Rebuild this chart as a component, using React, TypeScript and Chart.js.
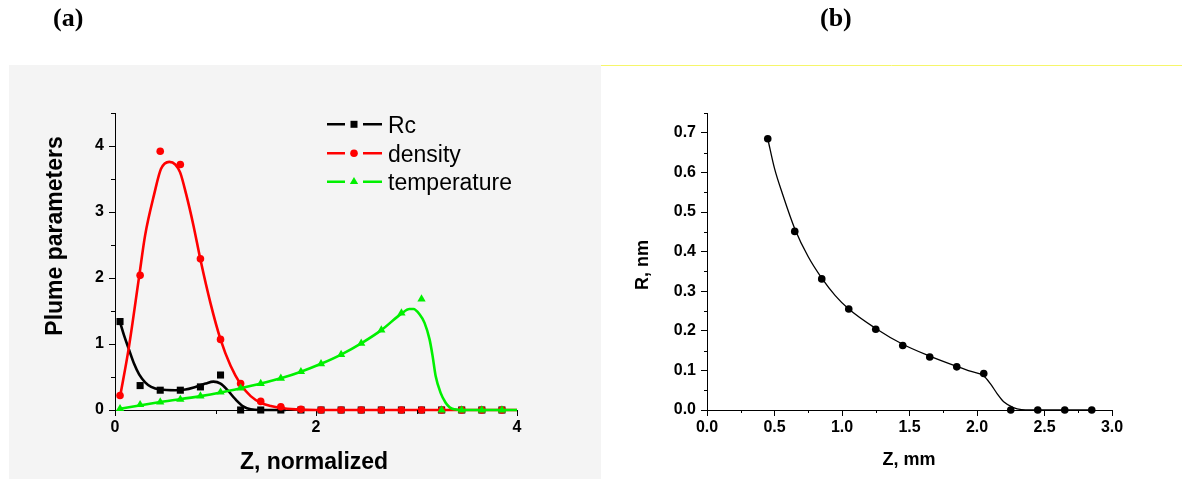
import React, { useEffect, useRef } from 'react';
import { Chart, registerables } from 'chart.js';

Chart.register(...registerables);

// ---------------- Panel (a): plume parameters vs normalized Z ----------------
const zMeasured = [0.05, 0.25, 0.45, 0.65, 0.85, 1.05, 1.25, 1.45, 1.65, 1.85, 2.05, 2.25, 2.45, 2.65, 2.85, 3.05, 3.25, 3.45, 3.65, 3.85];
const rcMeasured = [1.34, 0.37, 0.30, 0.30, 0.35, 0.53, 0, 0, 0, 0, 0, 0, 0, 0, 0, 0, 0, 0, 0, 0];
const densityMeasured = [0.22, 2.04, 3.92, 3.72, 2.29, 1.07, 0.40, 0.13, 0.05, 0.01, 0, 0, 0, 0, 0, 0, 0, 0, 0, 0];
const temperatureMeasured = [0.02, 0.08, 0.12, 0.16, 0.21, 0.27, 0.33, 0.40, 0.48, 0.58, 0.70, 0.84, 1.01, 1.21, 1.47, 1.68, 0, 0, 0, 0];

// fitted curves
const rcFitZ = [0.05, 0.09, 0.136, 0.19, 0.24, 0.3, 0.36, 0.45, 0.6, 0.7, 0.8, 0.9, 0.98, 1.05, 1.12, 1.2, 1.28, 1.35, 1.45, 1.7];
const rcFitY = [1.33, 1.13, 0.93, 0.70, 0.54, 0.42, 0.35, 0.31, 0.30, 0.31, 0.35, 0.40, 0.43, 0.40, 0.30, 0.16, 0.05, 0.01, 0, 0];
const densityFitZ = [0.05, 0.136, 0.24, 0.3, 0.39, 0.457, 0.54, 0.6, 0.648, 0.708, 0.78, 0.85, 0.95, 1.05, 1.15, 1.25, 1.35, 1.45, 1.55, 1.65, 1.8, 2.0, 4.0];
const densityFitY = [0.20, 0.93, 2.02, 2.65, 3.27, 3.65, 3.76, 3.72, 3.60, 3.27, 2.80, 2.28, 1.62, 1.07, 0.67, 0.39, 0.21, 0.11, 0.06, 0.03, 0.01, 0, 0];
const temperatureFitZ = [0.05, 0.45, 0.85, 1.05, 1.25, 1.45, 1.65, 1.85, 2.05, 2.25, 2.45, 2.65, 2.85, 2.93, 2.97, 3.03, 3.08, 3.13, 3.16, 3.19, 3.24, 3.29, 3.33, 3.38, 3.45, 4.0];
const temperatureFitY = [0.02, 0.12, 0.21, 0.265, 0.33, 0.40, 0.48, 0.58, 0.70, 0.84, 1.01, 1.21, 1.46, 1.53, 1.53, 1.45, 1.32, 1.07, 0.82, 0.52, 0.26, 0.11, 0.04, 0.01, 0, 0];

const xTicksA = [0, 2, 4];
const xMinorA = [1, 3];
const yTicksA = [0, 1, 2, 3, 4];
const yMinorA = [0.5, 1.5, 2.5, 3.5, 4.5];
const legendLabelsA = ['Rc', 'density', 'temperature'];

// ---------------- Panel (b): R vs Z ----------------
const zB = [0.45, 0.65, 0.85, 1.05, 1.25, 1.45, 1.65, 1.85, 2.05, 2.25, 2.45, 2.65, 2.85];
const rB = [0.685, 0.451, 0.331, 0.255, 0.204, 0.163, 0.134, 0.109, 0.092, 0, 0, 0, 0];
const rFitZ = [0.45, 0.5, 0.56, 0.65, 0.75, 0.85, 0.95, 1.05, 1.25, 1.45, 1.65, 1.85, 1.95, 2.05, 2.1, 2.15, 2.2, 2.27, 2.33, 2.4, 2.85];
const rFitY = [0.685, 0.61, 0.545, 0.458, 0.387, 0.333, 0.289, 0.255, 0.206, 0.166, 0.136, 0.110, 0.098, 0.086, 0.066, 0.041, 0.020, 0.006, 0.001, 0, 0];

const xTicksB = [0, 0.5, 1.0, 1.5, 2.0, 2.5, 3.0];
const xMinorB = [0.25, 0.75, 1.25, 1.75, 2.25, 2.75];
const yTicksB = [0, 0.1, 0.2, 0.3, 0.4, 0.5, 0.6, 0.7];
const yMinorB = [0.05, 0.15, 0.25, 0.35, 0.45, 0.55, 0.65, 0.75];

const BLACK = '#000000';
const RED = '#ff0000';
const GREEN = '#00f000';
const SANS = '"Liberation Sans", Arial, Helvetica, sans-serif';
const SERIF = '"Liberation Serif", "Times New Roman", serif';

const pts = (xs: number[], ys: number[]) => xs.map((x, i) => ({ x, y: ys[i] }));

function drawMinorTicks(chart: any, xMinor: number[], yMinor: number[], len: number) {
  const ctx = chart.ctx;
  const area = chart.chartArea;
  const xs = chart.scales.x;
  const ys = chart.scales.y;
  ctx.save();
  ctx.strokeStyle = '#000';
  ctx.lineWidth = 1;
  xMinor.forEach((v) => {
    const px = Math.round(xs.getPixelForValue(v)) + 0.5;
    ctx.beginPath();
    ctx.moveTo(px, area.bottom);
    ctx.lineTo(px, area.bottom + len);
    ctx.stroke();
  });
  yMinor.forEach((v) => {
    const py = Math.round(ys.getPixelForValue(v)) + 0.5;
    ctx.beginPath();
    ctx.moveTo(area.left, py);
    ctx.lineTo(area.left - len, py);
    ctx.stroke();
  });
  ctx.restore();
}

function drawText(ctx: CanvasRenderingContext2D, text: string, x: number, y: number, font: string, align: CanvasTextAlign, rotate = false) {
  ctx.save();
  ctx.fillStyle = '#000';
  ctx.font = font;
  ctx.textAlign = align;
  ctx.textBaseline = 'alphabetic';
  ctx.translate(x, y);
  if (rotate) ctx.rotate(-Math.PI / 2);
  ctx.fillText(text, 0, 0);
  ctx.restore();
}

function drawMarker(ctx: CanvasRenderingContext2D, style: string, x: number, y: number, color: string) {
  ctx.save();
  ctx.fillStyle = color;
  ctx.beginPath();
  if (style === 'rect') {
    ctx.rect(x - 3.5, y - 3.5, 7, 7);
  } else if (style === 'circle') {
    ctx.arc(x, y, 3.8, 0, Math.PI * 2);
  } else {
    const r = 4.8;
    ctx.moveTo(x, y - r);
    ctx.lineTo(x + r * Math.sin(Math.PI * 2 / 3), y + r * 0.5);
    ctx.lineTo(x - r * Math.sin(Math.PI * 2 / 3), y + r * 0.5);
    ctx.closePath();
  }
  ctx.fill();
  ctx.restore();
}

function axisScale(min: number, max: number, ticks: number[], fmt: (v: number) => string, fitSize: number, horizontal: boolean) {
  return {
    type: 'linear' as const,
    min,
    max,
    afterBuildTicks: (s: any) => {
      s.ticks = ticks.map((value) => ({ value }));
    },
    afterFit: (s: any) => {
      if (horizontal) s.height = fitSize;
      else s.width = fitSize;
    },
    grid: { display: true, drawOnChartArea: false, drawTicks: true, tickLength: 6, tickColor: '#000', tickWidth: 1 },
    border: { display: true, color: '#000', width: 1 },
    ticks: {
      color: '#000',
      font: { family: SANS, size: 16, weight: 'bold' as const },
      padding: horizontal ? 2 : 5,
      autoSkip: false,
      maxRotation: 0,
      callback: (v: any) => fmt(Number(v)),
    },
    title: { display: false },
  };
}

function PanelA() {
  const ref = useRef<HTMLCanvasElement | null>(null);
  useEffect(() => {
    if (!ref.current) return;
    const chart = new Chart(ref.current, {
      type: 'scatter',
      data: {
        datasets: [
          { label: 'temperature', data: pts(zMeasured, temperatureMeasured), showLine: false, pointStyle: 'triangle', pointRadius: 4.8, pointBackgroundColor: GREEN, pointBorderColor: GREEN, pointBorderWidth: 0, order: 1, clip: false } as any,
          { label: 'temperature fit', data: pts(temperatureFitZ, temperatureFitY), showLine: true, pointRadius: 0, borderColor: GREEN, borderWidth: 2.6, cubicInterpolationMode: 'monotone', order: 2, clip: false } as any,
          { label: 'density', data: pts(zMeasured, densityMeasured), showLine: false, pointStyle: 'circle', pointRadius: 3.8, pointBackgroundColor: RED, pointBorderColor: RED, pointBorderWidth: 0, order: 3, clip: false } as any,
          { label: 'density fit', data: pts(densityFitZ, densityFitY), showLine: true, pointRadius: 0, borderColor: RED, borderWidth: 2.6, cubicInterpolationMode: 'monotone', order: 4, clip: false } as any,
          { label: 'Rc', data: pts(zMeasured, rcMeasured), showLine: false, pointStyle: 'rect', pointRadius: 5, pointBackgroundColor: BLACK, pointBorderColor: BLACK, pointBorderWidth: 0, order: 5, clip: false } as any,
          { label: 'Rc fit', data: pts(rcFitZ, rcFitY), showLine: true, pointRadius: 0, borderColor: BLACK, borderWidth: 2.6, cubicInterpolationMode: 'monotone', order: 6, clip: false } as any,
        ],
      },
      options: {
        animation: false,
        responsive: false,
        events: [],
        layout: { padding: { left: 0, right: 84, top: 113, bottom: 0 } },
        plugins: { legend: { display: false }, tooltip: { enabled: false } },
        scales: {
          x: axisScale(0, 4, xTicksA, (v) => String(v), 69, true),
          y: axisScale(0, 4.5, yTicksA, (v) => String(v), 115, false),
        } as any,
      },
      plugins: [
        {
          id: 'panelADecor',
          beforeDraw(c: any) {
            const ctx = c.ctx;
            ctx.save();
            ctx.fillStyle = '#f4f4f4';
            ctx.fillRect(9, 65, c.width - 9, c.height - 65);
            ctx.restore();
          },
          afterDraw(c: any) {
            const ctx = c.ctx;
            drawMinorTicks(c, xMinorA, yMinorA, 4);
            drawText(ctx, '(a)', 53, 26, `bold 26px ${SERIF}`, 'left');
            drawText(ctx, 'Plume parameters', 62, 236, `bold 23px ${SANS}`, 'center', true);
            drawText(ctx, 'Z, normalized', 314, 469, `bold 23px ${SANS}`, 'center');
            const colors = [BLACK, RED, GREEN];
            const styles = ['rect', 'circle', 'triangle'];
            const rows = [124.3, 153.3, 181.7];
            legendLabelsA.forEach((label, i) => {
              const y = rows[i];
              ctx.save();
              ctx.strokeStyle = colors[i];
              ctx.lineWidth = 2.4;
              ctx.beginPath();
              ctx.moveTo(327, y);
              ctx.lineTo(345, y);
              ctx.moveTo(363, y);
              ctx.lineTo(382, y);
              ctx.stroke();
              ctx.restore();
              drawMarker(ctx, styles[i], 354, y, colors[i]);
              drawText(ctx, label, 388, y + 8.2, `23px ${SANS}`, 'left');
            });
          },
        },
      ],
    });
    return () => chart.destroy();
  }, []);
  return <canvas ref={ref} width={601} height={479} style={{ position: 'absolute', left: 0, top: 0, width: 601, height: 479 }} />;
}

function PanelB() {
  const ref = useRef<HTMLCanvasElement | null>(null);
  useEffect(() => {
    if (!ref.current) return;
    const chart = new Chart(ref.current, {
      type: 'scatter',
      data: {
        datasets: [
          { label: 'R', data: pts(zB, rB), showLine: false, pointStyle: 'circle', pointRadius: 3.8, pointBackgroundColor: BLACK, pointBorderColor: BLACK, pointBorderWidth: 0, order: 1, clip: false } as any,
          { label: 'R fit', data: pts(rFitZ, rFitY), showLine: true, pointRadius: 0, borderColor: BLACK, borderWidth: 1.3, cubicInterpolationMode: 'monotone', order: 2, clip: false } as any,
        ],
      },
      options: {
        animation: false,
        responsive: false,
        events: [],
        layout: { padding: { left: 0, right: 70, top: 113, bottom: 0 } },
        plugins: { legend: { display: false }, tooltip: { enabled: false } },
        scales: {
          x: axisScale(0, 3, xTicksB, (v) => v.toFixed(1), 69, true),
          y: axisScale(0, 0.75, yTicksB, (v) => v.toFixed(1), 106, false),
        } as any,
      },
      plugins: [
        {
          id: 'panelBDecor',
          beforeDraw(c: any) {
            const ctx = c.ctx;
            ctx.save();
            ctx.fillStyle = '#ffffff';
            ctx.fillRect(0, 0, c.width, c.height);
            ctx.strokeStyle = '#f6f66a';
            ctx.lineWidth = 1;
            ctx.beginPath();
            ctx.moveTo(0, 65.5);
            ctx.lineTo(c.width, 65.5);
            ctx.stroke();
            ctx.restore();
          },
          afterDraw(c: any) {
            const ctx = c.ctx;
            drawMinorTicks(c, xMinorB, yMinorB, 3);
            drawText(ctx, '(b)', 219, 26, `bold 26px ${SERIF}`, 'left');
            drawText(ctx, 'R, nm', 47, 265, `bold 18px ${SANS}`, 'center', true);
            drawText(ctx, 'Z, mm', 308, 465, `bold 18px ${SANS}`, 'center');
          },
        },
      ],
    });
    return () => chart.destroy();
  }, []);
  return <canvas ref={ref} width={581} height={479} style={{ position: 'absolute', left: 601, top: 0, width: 581, height: 479 }} />;
}

export default function App() {
  return (
    <div style={{ position: 'absolute', left: 0, top: 0, width: 1182, height: 479, background: '#ffffff', overflow: 'hidden' }}>
      <PanelA />
      <PanelB />
    </div>
  );
}
